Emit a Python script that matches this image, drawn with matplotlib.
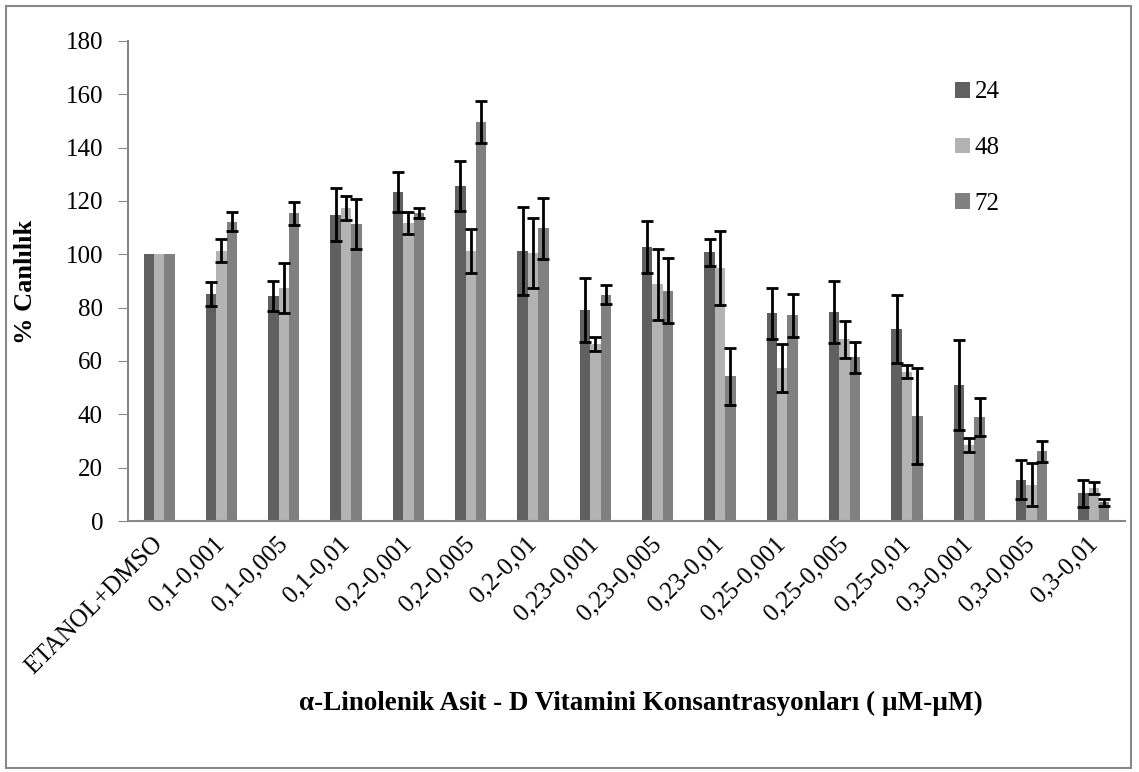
import numpy as np
import matplotlib
matplotlib.use("Agg")
import matplotlib.pyplot as plt
from matplotlib.patches import Rectangle

plt.rcParams["font.family"] = ["Liberation Serif", "DejaVu Serif"]

categories = ["ETANOL+DMSO", "0,1-0,001", "0,1-0,005", "0,1-0,01", "0,2-0,001",
              "0,2-0,005", "0,2-0,01", "0,23-0,001", "0,23-0,005", "0,23-0,01",
              "0,25-0,001", "0,25-0,005", "0,25-0,01", "0,3-0,001", "0,3-0,005",
              "0,3-0,01"]

# viability (%) per time point (h)
h24 = [100, 85.1, 84.4, 114.9, 123.2, 125.6, 101.2, 79.0, 102.7, 100.7,
       77.9, 78.4, 71.9, 51.0, 15.4, 10.4]
h48 = [100, 101.4, 87.4, 117.2, 111.9, 101.2, 100.5, 66.4, 88.7, 95.0,
       57.3, 68.1, 56.0, 28.5, 13.6, 12.4]
h72 = [100, 112.2, 115.4, 111.4, 115.4, 149.6, 109.7, 84.9, 86.4, 54.2,
       77.1, 61.4, 39.4, 38.9, 26.1, 7.0]

err24 = [0, 4.5, 5.7, 10.0, 7.5, 9.4, 16.6, 12.0, 9.7, 4.9,
         9.5, 11.7, 12.8, 17.0, 7.3, 5.1]
err48 = [0, 4.2, 9.3, 4.5, 4.1, 8.3, 13.3, 2.6, 13.3, 13.9,
         9.0, 6.9, 2.4, 2.7, 8.0, 2.4]
err72 = [0, 3.5, 4.4, 9.3, 1.8, 7.8, 11.5, 3.5, 12.1, 10.7,
         8.2, 5.8, 18.1, 7.2, 3.8, 1.2]

series = [("24", h24, err24, "#606060"),
          ("48", h48, err48, "#b3b3b3"),
          ("72", h72, err72, "#808080")]

W, H = 1139, 772
fig = plt.figure(figsize=(W / 100, H / 100), dpi=100)
ax = fig.add_axes([128 / W, 1 - 521 / H, (1125 - 128) / W, (521 - 41) / H])

x = np.arange(len(categories))
bw = 0.167
for i, (name, vals, errs, col) in enumerate(series):
    pos = x + (i - 1) * bw
    ax.bar(pos, vals, width=bw, color=col, label=name, zorder=2)
    e = np.array(errs, dtype=float)
    mask = e > 0
    ax.errorbar(pos[mask], np.array(vals)[mask], yerr=e[mask], fmt="none",
                ecolor="black", elinewidth=2, capsize=4.5, capthick=2, zorder=3)

ax.set_xlim(-0.5, len(categories) - 0.5)
ax.set_ylim(0, 180)
ax.set_yticks(range(0, 181, 20))
ax.tick_params(axis="y", labelsize=18, length=7, color="#888888", direction="out", pad=11)
ax.tick_params(axis="x", length=0, labelsize=18, pad=14)
ax.set_xticks(x)
ax.set_xticklabels(categories, rotation=45, ha="right", va="center",
                   rotation_mode="anchor")

for s in ["top", "right"]:
    ax.spines[s].set_visible(False)
for s in ["left", "bottom"]:
    ax.spines[s].set_color("#888888")
    ax.spines[s].set_linewidth(1.5)

fig.text(26 / W, 1 - 282 / H, "% Canlılık", rotation=90, fontsize=19,
         fontweight="bold", ha="center", va="center")
fig.text(641 / W, 1 - 703 / H, "α-Linolenik Asit - D Vitamini Konsantrasyonları ( µM-µM)",
         fontsize=19.5, fontweight="bold", ha="center", va="center")

leg = ax.legend(loc="upper left", bbox_to_anchor=(932 / W, 1 - 59 / H),
                bbox_transform=fig.transFigure, frameon=False, fontsize=18,
                handlelength=0.6, handleheight=0.6, handletextpad=0.2,
                labelspacing=1.35)

fig.patches.append(Rectangle((6 / W, 4 / H), (1131 - 6) / W, (766 - 4) / H,
                             transform=fig.transFigure, fill=False,
                             edgecolor="#888888", linewidth=1.5))

fig.savefig("out.png", dpi=100)
